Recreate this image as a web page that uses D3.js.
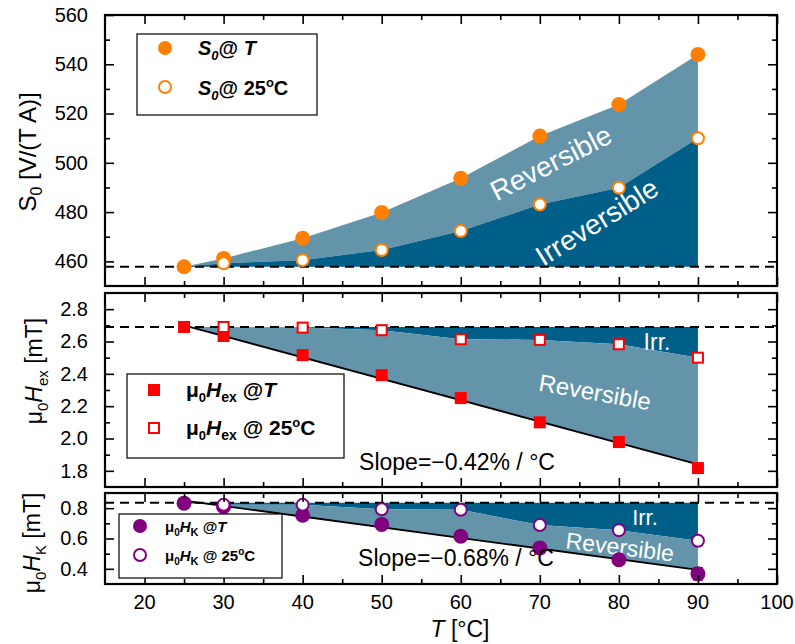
<!DOCTYPE html>
<html>
<head>
<meta charset="utf-8">
<script src="https://cdn.jsdelivr.net/npm/d3@7"></script>
<style>
  body { margin: 0; background: #fff; }
  svg text { font-family: "Liberation Sans", Arial, sans-serif; }
</style>
</head>
<body>
<div id="chart"></div>
<script>
// ---- data ----
const temps = [25, 30, 40, 50, 60, 70, 80, 90];

const s0AtT = [457.8, 461.2, 469.4, 479.8, 493.7, 510.9, 523.7, 544.0];
const s0At25 = [457.8, 459.2, 460.5, 464.6, 472.3, 483.1, 489.9, 510.0];
const s0Ref = 457.8;

const hexAtT = [2.69, 2.634, 2.516, 2.392, 2.25, 2.10, 1.978, 1.817];
const hexAt25 = [2.69, 2.69, 2.686, 2.67, 2.614, 2.61, 2.583, 2.50];
const hexRef = 2.69;
const hexFit = [[25, 2.70], [90, 1.84]];

const hkAtT = [0.833, 0.81, 0.753, 0.693, 0.615, 0.538, 0.46, 0.367];
const hkAtTErr = [0, 0.01, 0.015, 0.015, 0.015, 0.02, 0.02, 0.04];
const hkAt25 = [0.833, 0.822, 0.822, 0.793, 0.789, 0.689, 0.655, 0.585];
const hkRef = 0.835;
const hkFit = [[25, 0.85], [90, 0.393]];

const xTicks = [20, 30, 40, 50, 60, 70, 80, 90, 100];

// colours
const lightFill = "#6494aa";
const darkFill = "#005f89";

const W = 795, H = 644;
const svg = d3.select("#chart").append("svg")
    .attr("width", W).attr("height", H);

const x = d3.scaleLinear().domain([15, 100]).range([105, 777]);
const xMajor = d3.range(20, 101, 10);
const xMinor = d3.range(15, 100, 10).filter(v => v > 15);

// draw one panel frame + ticks
function frame(y, yMajor, yMinor, fmt) {
    let g = svg.append("g");
    let [y0, y1] = y.range();
    let left = x.range()[0], right = x.range()[1];

    let ax = (axis, tr, vals, size, labels) => {
        let a = g.append("g").attr("transform", tr)
            .call(axis.tickValues(vals).tickSizeInner(size).tickSizeOuter(0)
                .tickFormat(labels ? labels : () => ""));
        a.select(".domain").remove();
        a.selectAll("line").attr("stroke", "#000").attr("stroke-width", 1.6);
        return a;
    };
    ax(d3.axisBottom(x), `translate(0,${y0})`, xMajor, -9);
    ax(d3.axisBottom(x), `translate(0,${y0})`, xMinor, -5);
    ax(d3.axisTop(x), `translate(0,${y1})`, xMajor, -9);
    ax(d3.axisTop(x), `translate(0,${y1})`, xMinor, -5);
    let yl = ax(d3.axisLeft(y), `translate(${left},0)`, yMajor, -9, fmt);
    yl.selectAll("text").attr("x", -17).attr("font-size", 20).attr("fill", "#000");
    ax(d3.axisLeft(y), `translate(${left},0)`, yMinor, -5);
    ax(d3.axisRight(y), `translate(${right},0)`, yMajor, -9);
    ax(d3.axisRight(y), `translate(${right},0)`, yMinor, -5);

    g.append("rect")
        .attr("x", left).attr("y", y1)
        .attr("width", right - left).attr("height", y0 - y1)
        .attr("fill", "none").attr("stroke", "#000").attr("stroke-width", 2.2);
    return g;
}

function fillBetween(g, y, upper, lower, color) {
    let pts = upper.map(p => [x(p[0]), y(p[1])])
        .concat(lower.slice().reverse().map(p => [x(p[0]), y(p[1])]));
    g.append("path").attr("d", d3.line()(pts) + "Z").attr("fill", color);
}

function dashed(g, y, v) {
    g.append("line")
        .attr("x1", x.range()[0]).attr("x2", x.range()[1])
        .attr("y1", y(v)).attr("y2", y(v))
        .attr("stroke", "#000").attr("stroke-width", 2)
        .attr("stroke-dasharray", "9,6");
}

function rich(g, parts, attrs) {
    let t = g.append("text");
    Object.entries(attrs).forEach(([k, v]) => t.attr(k, v));
    parts.forEach(p => {
        let s = t.append("tspan").text(p.t);
        if (p.size) s.attr("font-size", p.size);
        if (p.italic) s.attr("font-style", "italic");
        if (p.bold) s.attr("font-weight", "bold");
        if (p.dy) s.attr("dy", p.dy);
    });
    return t;
}

function label(g, txt, cx, cy, size, angle, color) {
    g.append("text").text(txt)
        .attr("transform", `translate(${cx},${cy}) rotate(${angle})`)
        .attr("text-anchor", "middle").attr("dominant-baseline", "central")
        .attr("font-size", size).attr("fill", color || "#fff");
}

// ---------------- top panel: S0 ----------------
const yS = d3.scaleLinear().domain([450, 560]).range([286, 15]);
const gS = svg.append("g");
{
    let base = temps.map(t => [t, s0Ref]);
    let open = temps.map((t, i) => [t, s0At25[i]]);
    let full = temps.map((t, i) => [t, s0AtT[i]]);
    fillBetween(gS, yS, full, open, lightFill);
    fillBetween(gS, yS, open, base, darkFill);
    label(gS, "Reversible", 551, 163, 28, -27);
    label(gS, "Irreversible", 597, 222, 28, -32);
    dashed(gS, yS, s0Ref);
    frame(yS, d3.range(460, 561, 20), d3.range(450, 560, 20).filter(v => v > 450), d3.format("d"));

    gS.selectAll(".s0f").data(temps).join("circle")
        .attr("cx", d => x(d)).attr("cy", (d, i) => yS(s0AtT[i])).attr("r", 7.5)
        .attr("fill", "#ff8000");
    gS.selectAll(".s0o").data(temps.slice(1)).join("circle")
        .attr("cx", d => x(d)).attr("cy", (d, i) => yS(s0At25[i + 1])).attr("r", 6)
        .attr("fill", "#fff").attr("stroke", "#ff8000").attr("stroke-width", 2);

    // legend
    svg.append("rect").attr("x", 137).attr("y", 34).attr("width", 180).attr("height", 81)
        .attr("fill", "#fff").attr("stroke", "#000").attr("stroke-width", 1.2);
    svg.append("circle").attr("cx", 165).attr("cy", 48).attr("r", 7).attr("fill", "#ff8000");
    svg.append("circle").attr("cx", 165).attr("cy", 87).attr("r", 6)
        .attr("fill", "#fff").attr("stroke", "#ff8000").attr("stroke-width", 2);
    rich(svg, [
        { t: "S", italic: true, bold: true },
        { t: "0", italic: true, bold: true, size: 13, dy: 5 },
        { t: "@ ", bold: true, dy: -5 },
        { t: "T", italic: true, bold: true }
    ], { x: 198, y: 55, "font-size": 20 });
    rich(svg, [
        { t: "S", italic: true, bold: true },
        { t: "0", italic: true, bold: true, size: 13, dy: 5 },
        { t: "@ 25", bold: true, dy: -5 },
        { t: "o", bold: true, size: 13, dy: -8 },
        { t: "C", bold: true, dy: 8 }
    ], { x: 198, y: 95, "font-size": 20 });

    rich(svg, [
        { t: "S" },
        { t: "0", size: 16, dy: 6 },
        { t: " [V/(T A)]", dy: -6 }
    ], { transform: "translate(36,152) rotate(-90)", "text-anchor": "middle", "font-size": 24 });
}

// ---------------- middle panel: Hex ----------------
const yE = d3.scaleLinear().domain([1.7, 2.9]).range([487, 293]);
const gE = svg.append("g");
{
    let base = temps.map(t => [t, hexRef]);
    let open = temps.map((t, i) => [t, hexAt25[i]]);
    fillBetween(gE, yE, base, open, darkFill);
    fillBetween(gE, yE, open, hexFit, lightFill);
    label(gE, "Irr.", 657, 342, 23, 0);
    label(gE, "Reversible", 595, 392, 24, 10);
    dashed(gE, yE, hexRef);
    frame(yE, d3.range(1.8, 2.81, 0.2), d3.range(1.7, 2.9, 0.2).filter(v => v > 1.75), d3.format(".1f"));

    gE.append("line")
        .attr("x1", x(hexFit[0][0])).attr("y1", yE(hexFit[0][1]))
        .attr("x2", x(hexFit[1][0])).attr("y2", yE(hexFit[1][1]))
        .attr("stroke", "#000").attr("stroke-width", 1.8);

    gE.selectAll(".hf").data(temps).join("rect")
        .attr("x", d => x(d) - 6).attr("y", (d, i) => yE(hexAtT[i]) - 6)
        .attr("width", 12).attr("height", 12).attr("fill", "#ff0000");
    gE.selectAll(".ho").data(temps.slice(1)).join("rect")
        .attr("x", d => x(d) - 5).attr("y", (d, i) => yE(hexAt25[i + 1]) - 5)
        .attr("width", 10).attr("height", 10)
        .attr("fill", "#fff").attr("stroke", "#ff0000").attr("stroke-width", 2);

    label(gE, "Slope=\u22120.42% / \u00b0C", 457, 462, 23, 0, "#000");

    svg.append("rect").attr("x", 127).attr("y", 374).attr("width", 217).attr("height", 84)
        .attr("fill", "#fff").attr("stroke", "#000").attr("stroke-width", 1.2);
    svg.append("rect").attr("x", 148).attr("y", 384).attr("width", 12).attr("height", 12).attr("fill", "#ff0000");
    svg.append("rect").attr("x", 149).attr("y", 423).attr("width", 10).attr("height", 10)
        .attr("fill", "#fff").attr("stroke", "#ff0000").attr("stroke-width", 2);
    rich(svg, [
        { t: "\u03bc", bold: true },
        { t: "0", bold: true, size: 13, dy: 5 },
        { t: "H", bold: true, italic: true, dy: -5 },
        { t: "ex", bold: true, size: 14, dy: 5 },
        { t: " @", bold: true, dy: -5 },
        { t: "T", bold: true, italic: true }
    ], { x: 186, y: 397, "font-size": 21 });
    rich(svg, [
        { t: "\u03bc", bold: true },
        { t: "0", bold: true, size: 13, dy: 5 },
        { t: "H", bold: true, italic: true, dy: -5 },
        { t: "ex", bold: true, size: 14, dy: 5 },
        { t: " @ 25", bold: true, dy: -5 },
        { t: "o", bold: true, size: 13, dy: -8 },
        { t: "C", bold: true, dy: 8 }
    ], { x: 186, y: 435, "font-size": 21 });

    rich(svg, [
        { t: "\u03bc" },
        { t: "0", size: 15, dy: 6 },
        { t: "H", italic: true, dy: -6 },
        { t: "ex", size: 15, dy: 6 },
        { t: " [mT]", dy: -6 }
    ], { transform: "translate(42,371) rotate(-90)", "text-anchor": "middle", "font-size": 23 });
}

// ---------------- bottom panel: HK ----------------
const yK = d3.scaleLinear().domain([0.3, 0.9]).range([584, 493]);
const gK = svg.append("g");
{
    let base = temps.map(t => [t, hkRef]);
    let open = temps.map((t, i) => [t, hkAt25[i]]);
    fillBetween(gK, yK, base, open, darkFill);
    fillBetween(gK, yK, open, hkFit, lightFill);
    label(gK, "Irr.", 645, 517, 22, 0);
    label(gK, "Reversible", 620, 547, 23, 7);
    dashed(gK, yK, hkRef);
    let f = frame(yK, [0.4, 0.6, 0.8], [0.5, 0.7], d3.format(".1f"));

    // x tick labels on the bottom panel only
    f.append("g").selectAll("text").data(xTicks).join("text")
        .attr("x", d => x(d)).attr("y", 602)
        .attr("text-anchor", "middle").attr("dominant-baseline", "central")
        .attr("font-size", 20).text(d => d);

    gK.append("line")
        .attr("x1", x(hkFit[0][0])).attr("y1", yK(hkFit[0][1]))
        .attr("x2", x(hkFit[1][0])).attr("y2", yK(hkFit[1][1]))
        .attr("stroke", "#000").attr("stroke-width", 1.8);

    gK.selectAll(".kerr").data(temps).join("line")
        .attr("x1", d => x(d)).attr("x2", d => x(d))
        .attr("y1", (d, i) => yK(hkAtT[i] - hkAtTErr[i]))
        .attr("y2", (d, i) => yK(hkAtT[i] + hkAtTErr[i]))
        .attr("stroke", "#800080").attr("stroke-width", 1.5);
    gK.selectAll(".kcap").data(temps.flatMap((d, i) => hkAtTErr[i] > 0.02 ?
            [[d, hkAtT[i] - hkAtTErr[i]], [d, hkAtT[i] + hkAtTErr[i]]] : []))
        .join("line")
        .attr("x1", d => x(d[0]) - 5).attr("x2", d => x(d[0]) + 5)
        .attr("y1", d => yK(d[1])).attr("y2", d => yK(d[1]))
        .attr("stroke", "#800080").attr("stroke-width", 1.5);
    gK.selectAll(".kf").data(temps).join("circle")
        .attr("cx", d => x(d)).attr("cy", (d, i) => yK(hkAtT[i])).attr("r", 7.5)
        .attr("fill", "#800080");
    gK.selectAll(".ko").data(temps.slice(1)).join("circle")
        .attr("cx", d => x(d)).attr("cy", (d, i) => yK(hkAt25[i + 1])).attr("r", 6)
        .attr("fill", "#fff").attr("stroke", "#800080").attr("stroke-width", 2);

    label(gK, "Slope=\u22120.68% / \u00b0C", 456, 558, 23, 0, "#000");

    svg.append("rect").attr("x", 119).attr("y", 514).attr("width", 163).attr("height", 64)
        .attr("fill", "#fff").attr("stroke", "#000").attr("stroke-width", 1.2);
    svg.append("circle").attr("cx", 140).attr("cy", 526).attr("r", 7).attr("fill", "#800080");
    svg.append("circle").attr("cx", 140).attr("cy", 555).attr("r", 6)
        .attr("fill", "#fff").attr("stroke", "#800080").attr("stroke-width", 2);
    rich(svg, [
        { t: "\u03bc", bold: true },
        { t: "0", bold: true, size: 10, dy: 4 },
        { t: "H", bold: true, italic: true, dy: -4 },
        { t: "K", bold: true, size: 11, dy: 4 },
        { t: " @", bold: true, dy: -4 },
        { t: "T", bold: true, italic: true }
    ], { x: 165, y: 532, "font-size": 15 });
    rich(svg, [
        { t: "\u03bc", bold: true },
        { t: "0", bold: true, size: 10, dy: 4 },
        { t: "H", bold: true, italic: true, dy: -4 },
        { t: "K", bold: true, size: 11, dy: 4 },
        { t: " @ 25", bold: true, dy: -4 },
        { t: "o", bold: true, size: 10, dy: -6 },
        { t: "C", bold: true, dy: 6 }
    ], { x: 165, y: 561, "font-size": 15 });

    rich(svg, [
        { t: "\u03bc" },
        { t: "0", size: 15, dy: 6 },
        { t: "H", italic: true, dy: -6 },
        { t: "K", size: 15, dy: 6 },
        { t: " [mT]", dy: -6 }
    ], { transform: "translate(40,543) rotate(-90)", "text-anchor": "middle", "font-size": 23 });
}

// x title
rich(svg, [
    { t: "T", italic: true },
    { t: " [\u00b0C]" }
], { x: 460, y: 637, "text-anchor": "middle", "font-size": 23 });
</script>
</body>
</html>
